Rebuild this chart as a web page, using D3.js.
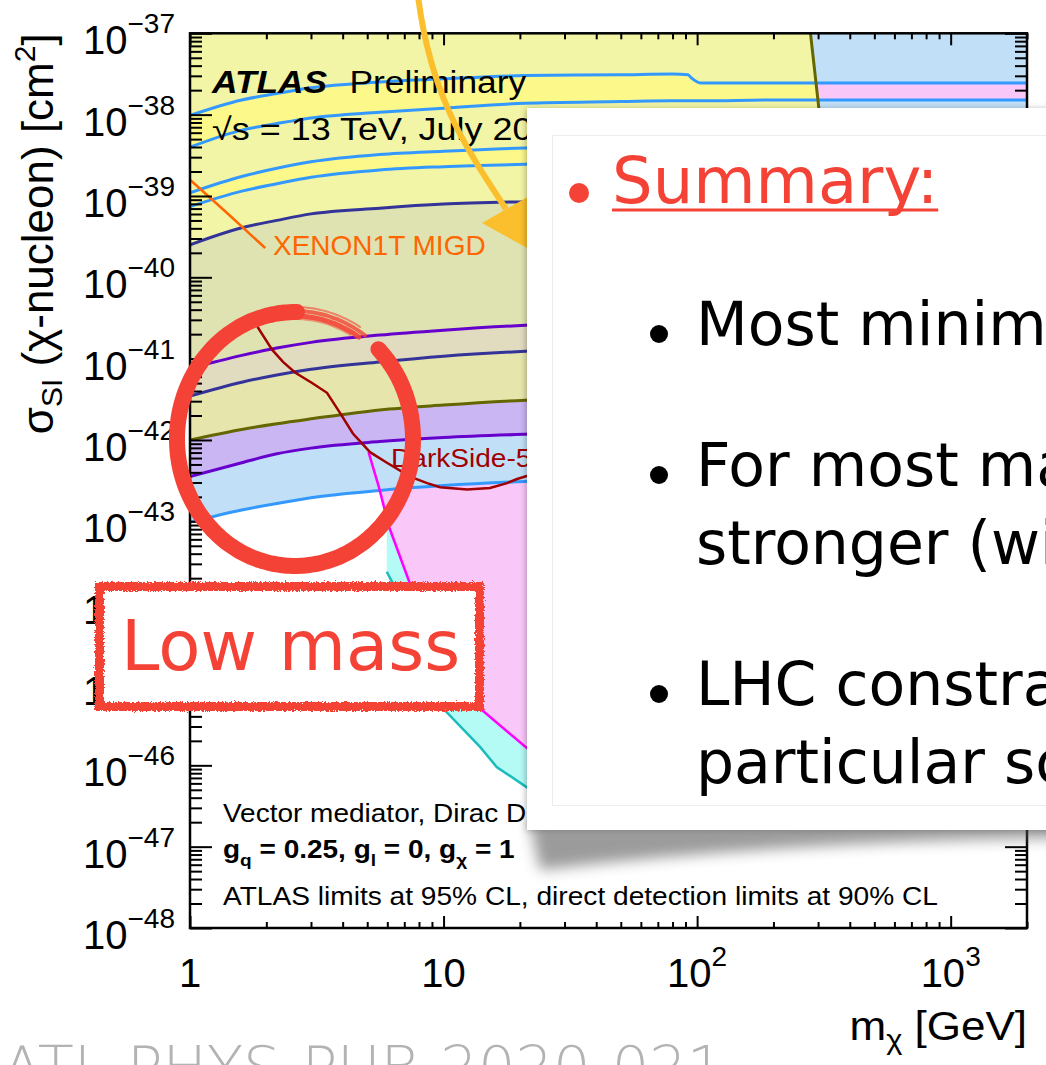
<!DOCTYPE html>
<html>
<head>
<meta charset="utf-8">
<script src="https://cdn.jsdelivr.net/npm/d3@7"></script>
<style>
html, body { margin: 0; padding: 0; background: #fff; overflow: hidden; }
svg { display: block; }
</style>
</head>
<body>
<svg id="chart" width="1046" height="1065"></svg>
<script>
// ATLAS contours, sampled on one mass grid [GeV], values are log10(sigma / cm2)
let massGrid  = [1, 1.6, 2.2, 3, 5.6, 10, 21, 50, 80, 92, 95, 103, 200, 300, 500, 1000, 2000];
let blue1     = [-38.01,-37.82,-37.74,-37.67,-37.60,-37.56,-37.52,-37.51,-37.50,-37.51,-37.55,-37.61,-37.61,-37.61,-37.61,-37.61,-37.61];
let blue2     = [-38.40,-38.19,-38.11,-38.04,-37.97,-37.92,-37.86,-37.84,-37.83,-37.83,-37.83,-37.83,-37.82,-37.82,-37.82,-37.82,-37.82];
let blue3     = [-38.96,-38.76,-38.66,-38.58,-38.49,-38.45,-38.41,-38.39,-38.38,-38.38,-38.38,-38.38,-38.37,-38.37,-38.37,-38.37,-38.37];
let blue4     = [-39.13,-38.94,-38.85,-38.77,-38.68,-38.64,-38.61,-38.59,-38.58,-38.58,-38.58,-38.58,-38.57,-38.57,-38.57,-38.57,-38.57];
let navy1     = [-39.60,-39.39,-39.30,-39.22,-39.15,-39.10,-39.07,-39.05,-39.04,-39.04,-39.04,-39.04,-39.03,-39.03,-39.03,-39.03,-39.03];
let violet1   = [-41.12,-40.96,-40.87,-40.80,-40.71,-40.65,-40.59,-40.55,-40.53,-40.53,-40.53,-40.52,-40.51,-40.50,-40.50,-40.50,-40.50];
let navy2     = [-41.46,-41.29,-41.20,-41.13,-41.04,-40.97,-40.91,-40.87,-40.85,-40.85,-40.85,-40.84,-40.83,-40.82,-40.82,-40.82,-40.82];
let olive     = [-42.00,-41.87,-41.80,-41.74,-41.63,-41.57,-41.51,-41.47,-41.45,-41.45,-41.44,-41.44,-41.40,-41.38,-41.37,-41.37,-41.37];
let violet2   = [-42.45,-42.28,-42.17,-42.10,-42.02,-41.97,-41.93,-41.90,-41.89,-41.89,-41.88,-41.88,-41.86,-41.85,-41.85,-41.85,-41.85];
let lightBlue = [-43.01,-42.86,-42.78,-42.71,-42.62,-42.56,-42.51,-42.48,-42.47,-42.47,-42.46,-42.46,-42.44,-42.43,-42.43,-42.43,-42.43];
// olive contour turns up near 300 GeV
let oliveEdge = [[350,-41.36],[400,-41.0],[370,-39.8],[335,-38.7],[302,-37.92],[280,-37.0]];

// direct detection limits [mass, log10 sigma]
let darkSide = [[1.79,-40.45],[1.855,-40.62],[2.107,-40.89],[2.327,-41.04],[2.595,-41.17],[3.03,-41.30],[3.47,-41.42],[3.91,-41.67],[4.39,-41.92],[5.13,-42.15],[5.98,-42.28],[7.38,-42.45],[8.61,-42.53],[9.69,-42.58],[12.4,-42.61],[15.25,-42.59],[17.8,-42.53],[19.5,-42.48],[30,-42.30],[60,-42.0],[150,-41.6],[500,-41.0],[2000,-40.4]];
let magentaLine = [[5.06,-42.15],[5.56,-42.58],[6.1,-43.07],[7.36,-43.76],[10,-44.6],[13.93,-45.30],[21.35,-45.79],[35,-46.1],[60,-46.2],[120,-46.0],[400,-45.5],[1000,-45.1],[2000,-44.8]];
let cyanLine = [[5.97,-43.62],[6.3,-43.76],[8,-44.59],[10.1,-45.32],[13.9,-45.77],[16.2,-46.02],[21.3,-46.27],[35,-46.55],[60,-46.7],[120,-46.6],[400,-46.1],[1000,-45.7],[2000,-45.4]];
let migdLine = [[1,-38.80],[1.40,-39.21],[1.98,-39.64]];

let summaryLines = [
    ["Most minimal models are excluded"],
    ["For most masses, direct detection is", "stronger (with caveats)"],
    ["LHC constraints are relevant in", "particular scenarios"]
];

let frameL = 190, frameR = 1027, frameT = 33.3, frameB = 928;
let rootFont = "'Liberation Sans', Arial, Helvetica, sans-serif";
let slideFont = "'DejaVu Sans', 'Open Sans', sans-serif";

let svg = d3.select("#chart");

let xScale = d3.scaleLog().domain([1, 2000]).range([frameL, frameR]);
let yScale = d3.scaleLog().domain([1e-48, 1e-37]).range([frameB, frameT]);
let yPow = (l) => yScale(Math.pow(10, l));

let smooth = d3.curveMonotoneX;
let lineGen = d3.line().x(d => xScale(d[0])).y(d => yPow(d[1])).curve(smooth);
let rawLine = d3.line().x(d => xScale(d[0])).y(d => yPow(d[1]));
let gridPts = (arr) => massGrid.map((m, i) => [m, arr[i]]);
let band = (upper, lower) => d3.area()
    .x(d => xScale(d[0])).y0(d => yPow(d[1])).y1(d => yPow(d[2])).curve(smooth)
    (massGrid.map((m, i) => [m, lower[i], upper === null ? -37 : upper[i]]));

let defs = svg.append("defs");
defs.append("clipPath").attr("id", "frameClip").append("rect")
    .attr("x", frameL).attr("y", frameT).attr("width", frameR - frameL).attr("height", frameB - frameT);

// olive contour: smooth along the grid, then straight segments up the edge
let oliveGridPart = gridPts(olive).filter(d => d[0] <= 200);
let oliveContour = lineGen(oliveGridPart) + rawLine(oliveEdge).replace("M", "L");
let olivePoly = oliveContour + "L" + xScale(1) + "," + yPow(-37) + "Z";
defs.append("clipPath").attr("id", "oliveClip").append("path").attr("d", olivePoly);

let rough = defs.append("filter").attr("id", "rough").attr("x", "-5%").attr("y", "-10%").attr("width", "110%").attr("height", "120%");
rough.append("feTurbulence").attr("type", "fractalNoise").attr("baseFrequency", 0.55).attr("numOctaves", 2).attr("result", "noise");
rough.append("feDisplacementMap").attr("in", "SourceGraphic").attr("in2", "noise").attr("scale", 5);

let blur = defs.append("filter").attr("id", "blur").attr("x", "-20%").attr("y", "-50%").attr("width", "140%").attr("height", "200%");
blur.append("feGaussianBlur").attr("stdDeviation", 7);

let soft = defs.append("filter").attr("id", "soft").attr("x", "-5%").attr("y", "-5%").attr("width", "110%").attr("height", "110%");
soft.append("feDropShadow").attr("dx", -1).attr("dy", 1).attr("stdDeviation", 3).attr("flood-color", "#000").attr("flood-opacity", 0.3);

// ---------- plot area ----------
let plot = svg.append("g").attr("clip-path", "url(#frameClip)");
plot.append("rect").attr("x", frameL).attr("y", frameT).attr("width", frameR - frameL).attr("height", frameB - frameT).attr("fill", "#fff");

plot.append("path").attr("fill", "#b4faf5")
    .attr("d", rawLine([[5.97, -42.3]].concat(cyanLine, [[2000, -42.3]])) + "Z");
plot.append("path").attr("fill", "#f9c8f9")
    .attr("d", rawLine([[5.06, -42.0]].concat(magentaLine, [[2000, -42.0]])) + "Z");

plot.append("path").attr("fill", "#c1e0f8").attr("d", band(null, lightBlue));
plot.append("path").attr("fill", "#f9c8f9").attr("d", band(blue1, blue2));
plot.append("path").attr("fill", "#f2f5a5").attr("d", olivePoly);

let insideOlive = plot.append("g").attr("clip-path", "url(#oliveClip)");
insideOlive.append("path").attr("fill", "#fdf88a").attr("d", band(blue1, blue2));
insideOlive.append("path").attr("fill", "#fdf88a").attr("d", band(blue3, blue4));

plot.append("path").attr("fill", "#dee3b1").attr("d", band(navy1, violet1));
plot.append("path").attr("fill", "#e1dbc0").attr("d", band(violet1, navy2));
plot.append("path").attr("fill", "#e6e6ac").attr("d", band(navy2, olive));
plot.append("path").attr("fill", "#cab6f2").attr("d", band(olive, violet2));

let atlasLines = [
    [lightBlue, "#3399ff"], [violet2, "#6600cc"], [navy2, "#333399"], [violet1, "#6600cc"],
    [navy1, "#333399"], [blue4, "#3399ff"], [blue3, "#3399ff"], [blue2, "#3399ff"], [blue1, "#3399ff"]
];
atlasLines.forEach(([arr, col]) => {
    plot.append("path").attr("fill", "none").attr("stroke", col).attr("stroke-width", 3)
        .attr("d", lineGen(gridPts(arr)));
});
plot.append("path").attr("fill", "none").attr("stroke", "#666600").attr("stroke-width", 3).attr("d", oliveContour);

plot.append("path").attr("fill", "none").attr("stroke", "#1abcbc").attr("stroke-width", 2.5).attr("d", rawLine(cyanLine));
plot.append("path").attr("fill", "none").attr("stroke", "#ff00ff").attr("stroke-width", 2.5).attr("d", rawLine(magentaLine));
plot.append("path").attr("fill", "none").attr("stroke", "#a00000").attr("stroke-width", 2.5).attr("d", rawLine(darkSide));
plot.append("path").attr("fill", "none").attr("stroke", "#ff6600").attr("stroke-width", 2.5).attr("d", rawLine(migdLine));

// stretched text helper (the plot is a bit wider than tall in the slide)
let label = (parent, x, y, size, sx, anchor) => parent.append("text")
    .attr("transform", "translate(" + x + "," + y + ") scale(" + sx + ",1)")
    .attr("font-family", rootFont).attr("font-size", size)
    .attr("text-anchor", anchor || "start");

label(plot, 273, 255, 28, 1.0).attr("fill", "#ff6600").text("XENON1T MIGD");
label(plot, 391, 467, 26, 1.08).attr("fill", "#a00000").text("DarkSide-50");

let atl = label(plot, 212, 93, 31, 1.14);
atl.append("tspan").attr("font-weight", "bold").attr("font-style", "italic").text("ATLAS");
atl.append("tspan").attr("dx", 11).text(" Preliminary");
label(plot, 212, 140, 31, 1.16).text("\u221As = 13 TeV, July 2020");

label(plot, 223, 822, 25, 1.12).text("Vector mediator, Dirac DM");
let gl = label(plot, 223, 858, 25, 1.12).attr("font-weight", "bold");
gl.append("tspan").text("g");
gl.append("tspan").attr("font-size", 17).attr("dy", 8).text("q");
gl.append("tspan").attr("dy", -8).text(" = 0.25, g");
gl.append("tspan").attr("font-size", 17).attr("dy", 8).text("l");
gl.append("tspan").attr("dy", -8).text(" = 0, g");
gl.append("tspan").attr("font-size", 17).attr("dy", 8).text("\u03C7");
gl.append("tspan").attr("dy", -8).text(" = 1");
label(plot, 223, 905, 25, 1.125).text("ATLAS limits at 95% CL, direct detection limits at 90% CL");

// ---------- axes ----------
let isDecade = (v) => Math.abs(Math.log10(v) - Math.round(Math.log10(v))) < 1e-6;
let yTicks = yScale.ticks(20);
let xTicks = xScale.ticks(20);
let yMajor = yTicks.filter(isDecade), yMinor = yTicks.filter(v => !isDecade(v));
let xMajor = xTicks.filter(isDecade), xMinor = xTicks.filter(v => !isDecade(v));

let axisG = svg.append("g");
let addAxis = (axis, tx, ty) => {
    let g = axisG.append("g").attr("transform", "translate(" + tx + "," + ty + ")").call(axis);
    g.select(".domain").remove();
    g.selectAll("line").attr("stroke", "#000").attr("stroke-width", 2);
    g.selectAll("text").remove();
};
addAxis(d3.axisLeft(yScale).tickValues(yMajor).tickSize(-22).tickFormat(""), frameL, 0);
addAxis(d3.axisLeft(yScale).tickValues(yMinor).tickSize(-12).tickFormat(""), frameL, 0);
addAxis(d3.axisRight(yScale).tickValues(yMajor).tickSize(-22).tickFormat(""), frameR, 0);
addAxis(d3.axisRight(yScale).tickValues(yMinor).tickSize(-12).tickFormat(""), frameR, 0);
addAxis(d3.axisBottom(xScale).tickValues(xMajor).tickSize(-12).tickFormat(""), 0, frameB);
addAxis(d3.axisBottom(xScale).tickValues(xMinor).tickSize(-6).tickFormat(""), 0, frameB);
addAxis(d3.axisTop(xScale).tickValues(xMajor).tickSize(-12).tickFormat(""), 0, frameT);
addAxis(d3.axisTop(xScale).tickValues(xMinor).tickSize(-6).tickFormat(""), 0, frameT);

svg.append("rect").attr("x", frameL).attr("y", frameT).attr("width", frameR - frameL).attr("height", frameB - frameT)
    .attr("fill", "none").attr("stroke", "#000").attr("stroke-width", 2.5);

let yLab = svg.append("g").attr("font-family", rootFont).attr("text-anchor", "end")
    .selectAll("text").data(yMajor).enter().append("text")
    .attr("x", frameL - 15).attr("y", d => yScale(d) + 21);
yLab.append("tspan").attr("font-size", 40).text("10");
yLab.append("tspan").attr("font-size", 28).attr("dy", -21).text(d => "\u2212" + Math.round(-Math.log10(d)));

let xLab = svg.append("g").attr("font-family", rootFont).attr("text-anchor", "middle")
    .selectAll("text").data(xMajor).enter().append("text")
    .attr("x", d => xScale(d)).attr("y", frameB + 59);
xLab.append("tspan").attr("font-size", 40).text(d => d === 1 ? "1" : "10");
xLab.filter(d => d >= 100).append("tspan").attr("font-size", 28).attr("dy", -21)
    .text(d => String(Math.round(Math.log10(d))));

let xt = label(svg, frameR, 1040, 40, 1.1, "end");
xt.append("tspan").text("m");
xt.append("tspan").attr("font-size", 28).attr("dy", 9).text("\u03C7");
xt.append("tspan").attr("dy", -9).text(" [GeV]");

let yt = svg.append("text").attr("transform", "translate(53," + frameT + ") rotate(-90)")
    .attr("font-family", rootFont).attr("font-size", 44).attr("text-anchor", "end");
yt.append("tspan").text("\u03C3");
yt.append("tspan").attr("font-size", 30).attr("dy", 9).text("SI");
yt.append("tspan").attr("dy", -9).text(" (\u03C7-nucleon) [cm");
yt.append("tspan").attr("font-size", 30).attr("dy", -18).text("2");
yt.append("tspan").attr("dy", 18).text("]");

// ---------- slide annotations ----------
let red = "#f44336";

svg.append("path").attr("fill", "none").attr("stroke", "#fbbf2e").attr("stroke-width", 6)
    .attr("d", "M418,-4 C430,90 460,140 506,209");
svg.append("path").attr("fill", "#fbbf2e").attr("d", "M482,223 L531,195 L529,249 Z");

let cx = 295, cy = 439, rx = 118, ry = 127;
let ring = (a0, a1, dr) => d3.range(a0, a1 + 0.1, 2).map(a => {
    let t = a * Math.PI / 180;
    return [cx + (rx + dr) * Math.cos(t), cy + (ry + dr) * Math.sin(t)];
});
let plain = d3.line().curve(d3.curveCardinal);
svg.append("path").attr("fill", "none").attr("stroke", red).attr("stroke-width", 16)
    .attr("stroke-linecap", "round").attr("d", plain(ring(-45, 272, 0)));
[[-4, 5, 0.9], [1, 4, 0.8], [5, 2, 0.6], [-7, 2, 0.5]].forEach(([dr, w, op]) => {
    svg.append("path").attr("fill", "none").attr("stroke", red).attr("stroke-width", w)
        .attr("opacity", op).attr("stroke-linecap", "round").attr("d", plain(ring(262, 308 - Math.abs(dr), dr)));
});

svg.append("rect").attr("x", 99.5).attr("y", 586.5).attr("width", 380).attr("height", 120)
    .attr("fill", "#fff").attr("stroke", red).attr("stroke-width", 9).attr("filter", "url(#rough)");
svg.append("text").attr("x", 121).attr("y", 670).attr("font-family", slideFont)
    .attr("font-size", 69).attr("fill", red).text("Low mass");

// summary card
svg.append("path").attr("fill", "#666").attr("opacity", 0.65).attr("filter", "url(#blur)")
    .attr("d", "M530,824 L1060,824 L1060,838 Q780,842 540,870 Z");
svg.append("rect").attr("x", 527).attr("y", 108).attr("width", 560).attr("height", 722)
    .attr("fill", "#fff").attr("filter", "url(#soft)");
svg.append("rect").attr("x", 552.5).attr("y", 135.5).attr("width", 540).attr("height", 670)
    .attr("fill", "none").attr("stroke", "#ececec").attr("stroke-width", 1);

svg.append("circle").attr("cx", 579).attr("cy", 193).attr("r", 10).attr("fill", red);
let sumText = svg.append("text").attr("x", 612).attr("y", 203).attr("font-family", slideFont)
    .attr("font-size", 64).attr("fill", red).text("Summary:");
let sumLen = sumText.node().getComputedTextLength();
svg.append("line").attr("x1", 612).attr("x2", 612 + sumLen).attr("y1", 210).attr("y2", 210)
    .attr("stroke", red).attr("stroke-width", 3);

let bulletY = [345, 486, 705];
let lineGap = 78;
summaryLines.forEach((lines, i) => {
    svg.append("circle").attr("cx", 659).attr("cy", bulletY[i] - 11).attr("r", 9).attr("fill", "#000");
    lines.forEach((t, j) => {
        svg.append("text").attr("x", 696).attr("y", bulletY[i] + j * lineGap)
            .attr("font-family", slideFont).attr("font-size", 60).attr("fill", "#000").text(t);
    });
});

svg.append("text").attr("x", 2).attr("y", 1088).attr("font-family", slideFont)
    .attr("font-weight", 200).attr("font-size", 59).attr("fill", "#b3b3b3").text("ATL-PHYS-PUB-2020-021");
</script>
</body>
</html>
